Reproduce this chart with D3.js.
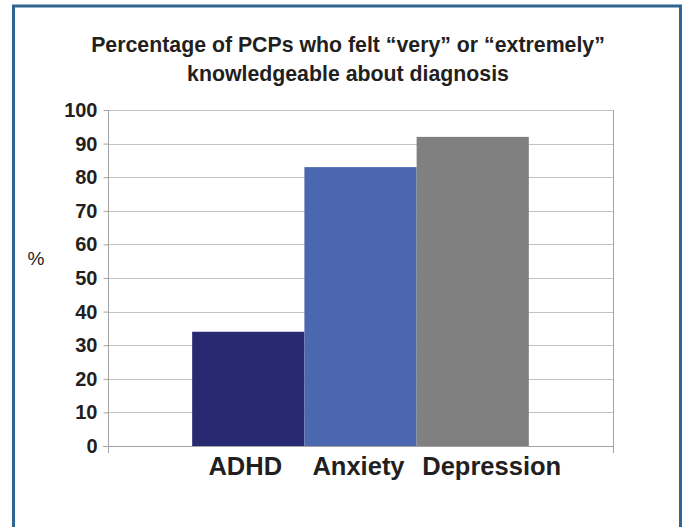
<!DOCTYPE html>
<html>
<head>
<meta charset="utf-8">
<script src="https://cdn.jsdelivr.net/npm/d3@7"></script>
<style>
  html, body { margin: 0; padding: 0; background: #fff; }
  svg { display: block; }
  text { font-family: "Liberation Sans", Arial, Helvetica, sans-serif; fill: #231f20; }
</style>
</head>
<body>
<svg id="chart" width="684" height="527"></svg>
<script>
// Chart data
const categories = ["ADHD", "Anxiety", "Depression"];
const values = [34, 83, 92];
const barColors = ["#272a70", "#4a67b0", "#808080"];
const yTicks = [0, 10, 20, 30, 40, 50, 60, 70, 80, 90, 100];
const titleLines = ["Percentage of PCPs who felt \u201cvery\u201d or \u201cextremely\u201d", "knowledgeable about diagnosis"];
const yAxisLabel = "%";

const svg = d3.select("#chart");

// Outer frame
svg.append("rect")
  .attr("x", 13.5).attr("y", 6)
  .attr("width", 667).attr("height", 540)
  .attr("fill", "none")
  .attr("stroke", "#2e6592")
  .attr("stroke-width", 3);

// Title
svg.append("g").selectAll("text")
  .data(titleLines)
  .join("text")
  .attr("x", 348)
  .attr("y", (d, i) => 52 + i * 29)
  .attr("text-anchor", "middle")
  .attr("font-size", 21.3)
  .attr("font-weight", "bold")
  .text(d => d);

// Plot area
const plot = { left: 108, right: 613, top: 110, bottom: 446 };

const y = d3.scaleLinear().domain([0, 100]).range([plot.bottom, plot.top]);
const x = d3.scaleBand()
  .domain(categories)
  .range([plot.left, plot.right])
  .paddingInner(0)
  .paddingOuter(0.75);

// Gridlines
svg.append("g")
  .selectAll("line")
  .data(yTicks.filter(d => d > 0))
  .join("line")
  .attr("x1", plot.left).attr("x2", plot.right)
  .attr("y1", d => Math.round(y(d)) + 0.5).attr("y2", d => Math.round(y(d)) + 0.5)
  .attr("stroke", "#c2c2c2")
  .attr("stroke-width", 1.2);

// Right border of the plot area
svg.append("line")
  .attr("x1", plot.right + 0.5).attr("x2", plot.right + 0.5)
  .attr("y1", plot.top).attr("y2", plot.bottom + 7)
  .attr("stroke", "#a3a3a3");

// Bars
svg.append("g")
  .selectAll("rect")
  .data(categories.map((c, i) => ({ c, v: values[i], color: barColors[i] })))
  .join("rect")
  .attr("x", d => x(d.c))
  .attr("width", x.bandwidth())
  .attr("y", d => y(d.v))
  .attr("height", d => y(0) - y(d.v))
  .attr("fill", d => d.color);

// Y axis
const yAxis = svg.append("g")
  .attr("transform", `translate(${plot.left + 0.5},0)`)
  .call(d3.axisLeft(y).tickValues(yTicks).tickSize(5).tickSizeOuter(0).tickPadding(6));
yAxis.select(".domain").attr("stroke", "#a3a3a3").attr("d", `M0,${plot.top}V${plot.bottom + 7}`);
yAxis.selectAll(".tick line").attr("stroke", "#a3a3a3");
yAxis.selectAll(".tick text")
  .attr("font-size", 20)
  .attr("font-weight", "bold")
  .attr("fill", "#231f20")
  .style("font-family", "'Liberation Sans', Arial, sans-serif");

// Category axis baseline
svg.append("line")
  .attr("x1", plot.left - 5).attr("x2", plot.right)
  .attr("y1", plot.bottom + 0.5).attr("y2", plot.bottom + 0.5)
  .attr("stroke", "#a3a3a3");

// Y axis label
svg.append("text")
  .attr("x", 36).attr("y", 265)
  .attr("text-anchor", "middle")
  .attr("font-size", 19)
  .text(yAxisLabel);

// Category labels
const labelShift = [-3, -2, 19];
svg.append("g")
  .selectAll("text")
  .data(categories)
  .join("text")
  .attr("x", (d, i) => x(d) + x.bandwidth() / 2 + labelShift[i])
  .attr("y", 475)
  .attr("text-anchor", "middle")
  .attr("font-size", 25.5)
  .attr("font-weight", "bold")
  .text(d => d);
</script>
</body>
</html>
